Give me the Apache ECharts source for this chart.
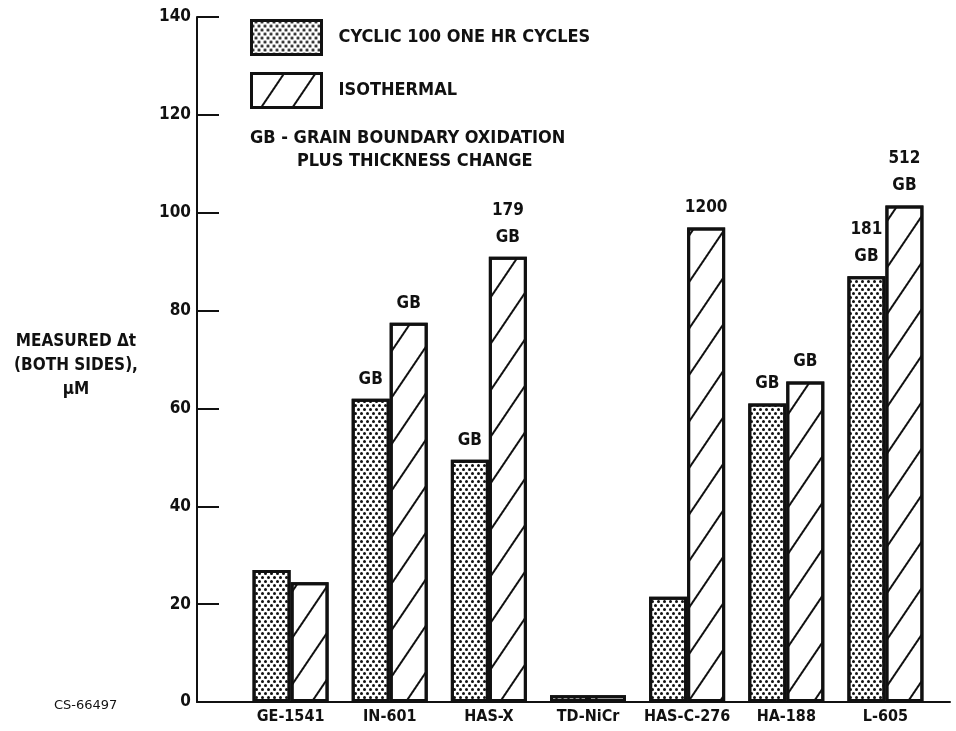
<!DOCTYPE html>
<html>
<head>
<meta charset="utf-8">
<script src="https://cdn.jsdelivr.net/npm/echarts@6/dist/echarts.min.js"></script>
<style>
  html, body { margin: 0; background: #fff; }
  #chart { width: 956px; height: 731px; }
</style>
</head>
<body>
<div id="chart"></div>
<script>
// values (micrometres)
const alloys = ['GE-1541', 'IN-601', 'HAS-X', 'TD-NiCr', 'HAS-C-276', 'HA-188', 'L-605']
const cyclic = [27, 62, 49.5, 1.4, 21.5, 61, 87]
const isothermal = [24.5, 77.5, 91, 1.4, 97, 65.5, 101.5]
const cyclicNotes = ['', 'GB', 'GB', '', '', 'GB', '181\nGB']
const isoNotes = ['', 'GB', '179\nGB', '', '1200', 'GB', '512\nGB']
const yMin = 0
const yMax = 140
const yStep = 20

const FONT = '"DejaVu Sans Condensed", "Liberation Sans Narrow", sans-serif'
const INK = '#111'

const chart = echarts.init(document.getElementById('chart'))

const dots = {
  symbol: 'circle',
  symbolSize: 1,
  color: INK,
  dashArrayX: [[3, 3], [0, 3, 3, 0]],
  dashArrayY: [3, 1]
}
const hatch = {
  symbol: 'rect',
  symbolSize: 1,
  color: INK,
  dashArrayX: [1, 0],
  dashArrayY: [2, 24],
  rotation: -56 * Math.PI / 180
}

const barLabel = (notes) => ({
  show: true,
  position: 'top',
  distance: 6,
  color: INK,
  fontFamily: FONT,
  fontWeight: 'bold',
  fontSize: 17,
  lineHeight: 27,
  formatter: (p) => notes[p.dataIndex]
})

const option = {
  backgroundColor: '#fff',
  animation: false,
  textStyle: { fontFamily: FONT },
  grid: [
    { left: 241, right: 21, top: 17, bottom: 29 },
    { left: 197, right: 6, top: 17, bottom: 29 }
  ],
  legend: {
    orient: 'vertical',
    left: 250,
    top: 19,
    padding: 0,
    itemWidth: 70,
    itemHeight: 34,
    itemGap: 16,
    icon: 'rect',
    selectedMode: false,
    itemStyle: { borderColor: INK, borderWidth: 3 },
    textStyle: { color: INK, fontFamily: FONT, fontWeight: 'bold', fontSize: 18, padding: [0, 0, 0, 12] },
    data: ['CYCLIC 100 ONE HR CYCLES', 'ISOTHERMAL']
  },
  xAxis: [
    {
      type: 'category',
      gridIndex: 0,
      data: alloys,
      axisLine: { show: false },
      axisTick: { show: false },
      axisLabel: { interval: 0, color: INK, fontFamily: FONT, fontWeight: 'bold', fontSize: 16, margin: 7 }
    },
    {
      type: 'value',
      gridIndex: 1,
      min: 0,
      max: 1,
      axisLine: { show: true, lineStyle: { color: INK, width: 2 } },
      axisTick: { show: false },
      axisLabel: { show: false },
      splitLine: { show: false }
    }
  ],
  yAxis: [
    {
      type: 'value',
      gridIndex: 0,
      min: yMin,
      max: yMax,
      interval: yStep,
      show: false
    },
    {
      type: 'value',
      gridIndex: 1,
      min: yMin,
      max: yMax,
      interval: yStep,
      axisLine: { show: true, lineStyle: { color: INK, width: 2 } },
      axisTick: { show: true, inside: true, length: 22, lineStyle: { color: INK, width: 2 } },
      axisLabel: { color: INK, fontFamily: FONT, fontWeight: 'bold', fontSize: 17, margin: 6 },
      splitLine: { show: false }
    }
  ],
  series: [
    {
      name: 'CYCLIC 100 ONE HR CYCLES',
      type: 'bar',
      xAxisIndex: 0,
      yAxisIndex: 0,
      barWidth: 38,
      barGap: '0%',
      data: cyclic,
      itemStyle: { color: '#fff', borderColor: INK, borderWidth: 3, decal: dots },
      label: barLabel(cyclicNotes)
    },
    {
      name: 'ISOTHERMAL',
      type: 'bar',
      xAxisIndex: 0,
      yAxisIndex: 0,
      barWidth: 38,
      barGap: '0%',
      data: isothermal,
      itemStyle: { color: '#fff', borderColor: INK, borderWidth: 3, decal: hatch },
      label: barLabel(isoNotes)
    }
  ],
  graphic: [
    {
      type: 'text',
      left: 250,
      top: 129,
      style: { text: 'GB - GRAIN BOUNDARY OXIDATION', fill: INK, font: 'bold 18px ' + FONT }
    },
    {
      type: 'text',
      left: 297,
      top: 152,
      style: { text: 'PLUS THICKNESS CHANGE', fill: INK, font: 'bold 18px ' + FONT }
    },
    {
      type: 'text',
      x: 76,
      y: 330,
      style: {
        text: 'MEASURED Δt\n(BOTH SIDES),\nμM',
        fill: INK,
        font: 'bold 17px ' + FONT,
        lineHeight: 24,
        align: 'center'
      }
    },
    {
      type: 'text',
      left: 54,
      top: 699,
      style: { text: 'CS-66497', fill: INK, font: '13px "DejaVu Sans", sans-serif' }
    }
  ]
}

chart.setOption(option)
</script>
</body>
</html>
